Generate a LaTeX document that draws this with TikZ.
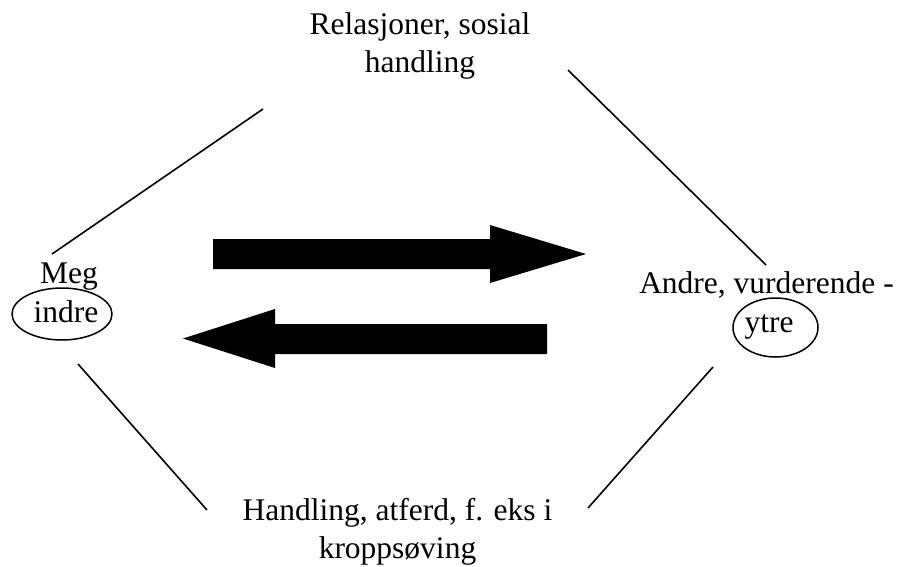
\documentclass[tikz,border=0pt]{standalone}
\usepackage{fontspec}
\setmainfont{Liberation Serif}
\begin{document}
\begin{tikzpicture}[x=1pt,y=-1pt,
  lbl/.style={font=\fontsize{31.5}{38}\selectfont, inner sep=0pt, anchor=base, align=center},
  ring/.style={draw, line width=1.5pt},
  thin/.style={draw, line width=1.6pt},
  bigarrow/.style={fill=black, draw=none}]
\useasboundingbox (0,0) rectangle (899,567);
% text (base anchor = baseline of last line)
\node[lbl] (rel) at (420,73) {Relasjoner, sosial\\handling};
\node[lbl] (hand) at (397.5,558) {Handling, atferd, f. eks i\\kroppsøving};
\node[lbl] (meg) at (69,283) {Meg};
\node[lbl] (indre) at (66,322) {indre};
\node[lbl] (andre) at (766.5,293) {Andre, vurderende -};
\node[lbl] (ytre) at (769,332) {ytre};
% ellipses
\draw[ring] (62,314) ellipse [x radius=50, y radius=26];
\draw[ring] (775.5,327.5) ellipse [x radius=42.5, y radius=29.5];
% connector end points
\coordinate (l1a) at (52,254); \coordinate (l1b) at (263,109);
\coordinate (l2a) at (568,70); \coordinate (l2b) at (766,265);
\coordinate (l3a) at (78,364); \coordinate (l3b) at (207,510);
\coordinate (l4a) at (713,367); \coordinate (l4b) at (588,508);
\draw[thin] (l1a) -- (l1b);
\draw[thin] (l2a) -- (l2b);
\draw[thin] (l3a) -- (l3b);
\draw[thin] (l4a) -- (l4b);
% block arrows
\fill[bigarrow] (213,239) -- (490,239) -- (490,225) -- (586,254) -- (490,283) -- (490,269) -- (213,269) -- cycle;
\fill[bigarrow] (547,324) -- (275,324) -- (275,309) -- (183,338.5) -- (275,368) -- (275,354) -- (547,354) -- cycle;
\end{tikzpicture}
\end{document}
